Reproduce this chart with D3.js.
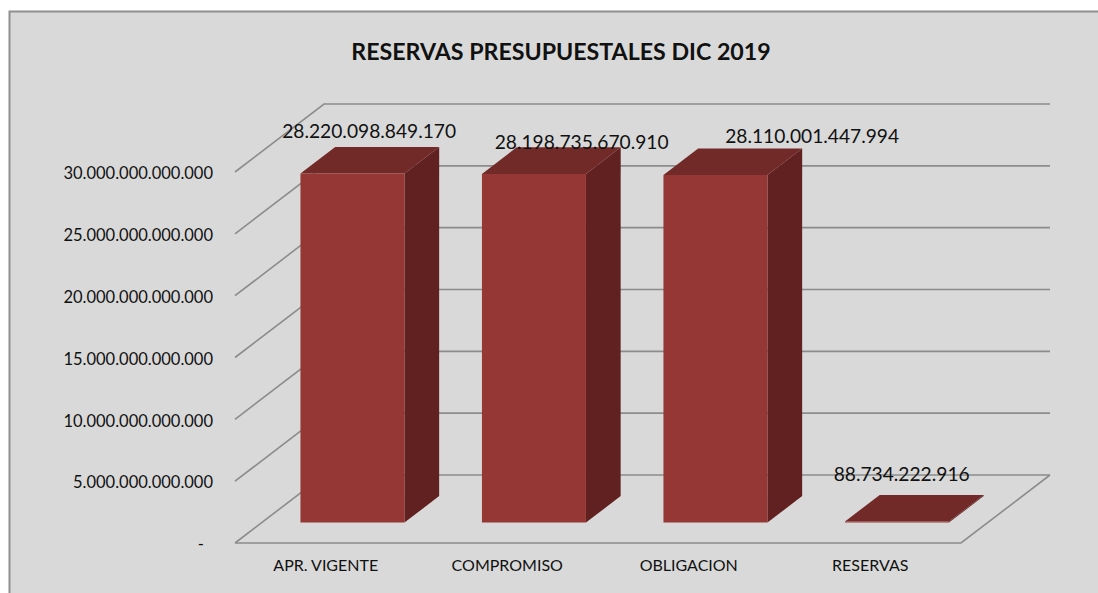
<!DOCTYPE html>
<html>
<head>
<meta charset="utf-8">
<script src="https://cdn.jsdelivr.net/npm/d3@7"></script>
<style>
  html, body { margin: 0; padding: 0; background: #fff; }
  svg { display: block; }
  text { font-family: Lato, "Open Sans", sans-serif; fill: #111; }
</style>
</head>
<body>
<div id="chart"></div>
<script>
var title = 'RESERVAS PRESUPUESTALES DIC 2019';
var categories = ['APR. VIGENTE', 'COMPROMISO', 'OBLIGACION', 'RESERVAS'];
var values = [28220098849170, 28198735670910, 28110001447994, 88734222916];
var tickValues = [0, 5000000000000, 10000000000000, 15000000000000, 20000000000000, 25000000000000, 30000000000000];

var width = 1098, height = 593;
// front-left corner of the floor and how far the 3d box goes back
var floorLeft = 235, floorRight = 961, floorY = 543, topY = 172;
var depthX = 89, depthY = 68;
// bars stand between these fractions of the floor depth
var barNear = 0.3, barFar = 0.69;
var barGap = 0.427;
// the labels sit a bit off the bar in the original
var labelDx = [-18, 13, 62, -30], labelDy = [-9, 2, -5, -14];

var es = d3.formatLocale({decimal: ',', thousands: '.', grouping: [3], currency: ['$', '']});
var num = es.format(',d');

var svg = d3.select('#chart').append('svg')
    .attr('width', width)
    .attr('height', height);

svg.append('rect')
    .attr('x', 9.5).attr('y', 11.5)
    .attr('width', width + 20).attr('height', height + 20)
    .attr('fill', '#d9d9d9')
    .attr('stroke', '#8f8f8f')
    .attr('stroke-width', 2);

var x = d3.scaleBand().domain(categories).range([floorLeft, floorRight]).paddingInner(0);
var y = d3.scaleLinear().domain([0, 30000000000000]).range([floorY, topY]);

svg.append('text')
    .attr('x', 561).attr('y', 60)
    .attr('text-anchor', 'middle')
    .attr('font-size', 23.2)
    .attr('font-weight', 'bold')
    .text(title);

// walls: left diagonal + back horizontal for every tick
var grid = svg.append('g').attr('fill', 'none').attr('stroke', '#8c8c8c').attr('stroke-width', 1.6);
tickValues.forEach(function(t) {
  var p = d3.path();
  p.moveTo(floorLeft, y(t));
  p.lineTo(floorLeft + depthX, y(t) - depthY);
  p.lineTo(floorRight + depthX, y(t) - depthY);
  grid.append('path').attr('d', p.toString());
});
var floor = d3.path();
floor.moveTo(floorLeft, floorY);
floor.lineTo(floorRight, floorY);
floor.lineTo(floorRight + depthX, floorY - depthY);
grid.append('path').attr('d', floor.toString());

// axes
var yAxis = d3.axisLeft(y)
    .tickValues(tickValues)
    .tickSize(0)
    .tickPadding(22)
    .tickFormat(function(d) { return d === 0 ? '-' : num(d); });
var yG = svg.append('g').attr('transform', 'translate(' + floorLeft + ',1.5)').call(yAxis);
yG.select('.domain').remove();
yG.selectAll('text').attr('font-size', 16.5).attr('font-family', null);
yG.selectAll('text').filter(function(d) { return d === 0; }).attr('dx', -9);

var xAxis = d3.axisBottom(x).tickSize(0).tickPadding(17);
var xG = svg.append('g').attr('transform', 'translate(0,' + floorY + ')').call(xAxis);
xG.select('.domain').remove();
xG.selectAll('text').attr('font-size', 16).attr('font-family', null);

// bars
var barW = x.bandwidth() * (1 - barGap);
var nearDx = depthX * barNear, nearDy = depthY * barNear;
var farDx = depthX * barFar, farDy = depthY * barFar;

function poly(points) {
  return 'M' + points.map(function(p) { return p[0] + ',' + p[1]; }).join('L') + 'Z';
}

var bars = svg.append('g').selectAll('g')
    .data(categories.map(function(c, i) { return {name: c, value: values[i], i: i}; }))
    .enter().append('g');

bars.each(function(d) {
  var g = d3.select(this);
  var x0 = x(d.name) + (x.bandwidth() - barW) / 2 + nearDx;
  var x1 = x0 + barW;
  var yb = y(0) - nearDy;
  var yt = y(d.value) - nearDy;
  var bx = farDx - nearDx, by = farDy - nearDy;
  g.append('path').attr('fill', '#612120')
    .attr('d', poly([[x1, yb], [x1 + bx, yb - by], [x1 + bx, yt - by], [x1, yt]]));
  g.append('path').attr('fill', '#722a28')
    .attr('d', poly([[x0, yt], [x0 + bx, yt - by], [x1 + bx, yt - by], [x1, yt]]));
  g.append('path').attr('fill', '#953735')
    .attr('d', poly([[x0, yb], [x0, yt], [x1, yt], [x1, yb]]));
});

// labels last, they run over the grid and the bars
bars.append('text')
    .attr('x', function(d) { return x(d.name) + x.bandwidth() / 2 + farDx + labelDx[d.i]; })
    .attr('y', function(d) { return y(d.value) - farDy + labelDy[d.i]; })
    .attr('text-anchor', 'middle')
    .attr('font-size', 19.2)
    .text(function(d) { return num(d.value); });
</script>
</body>
</html>
